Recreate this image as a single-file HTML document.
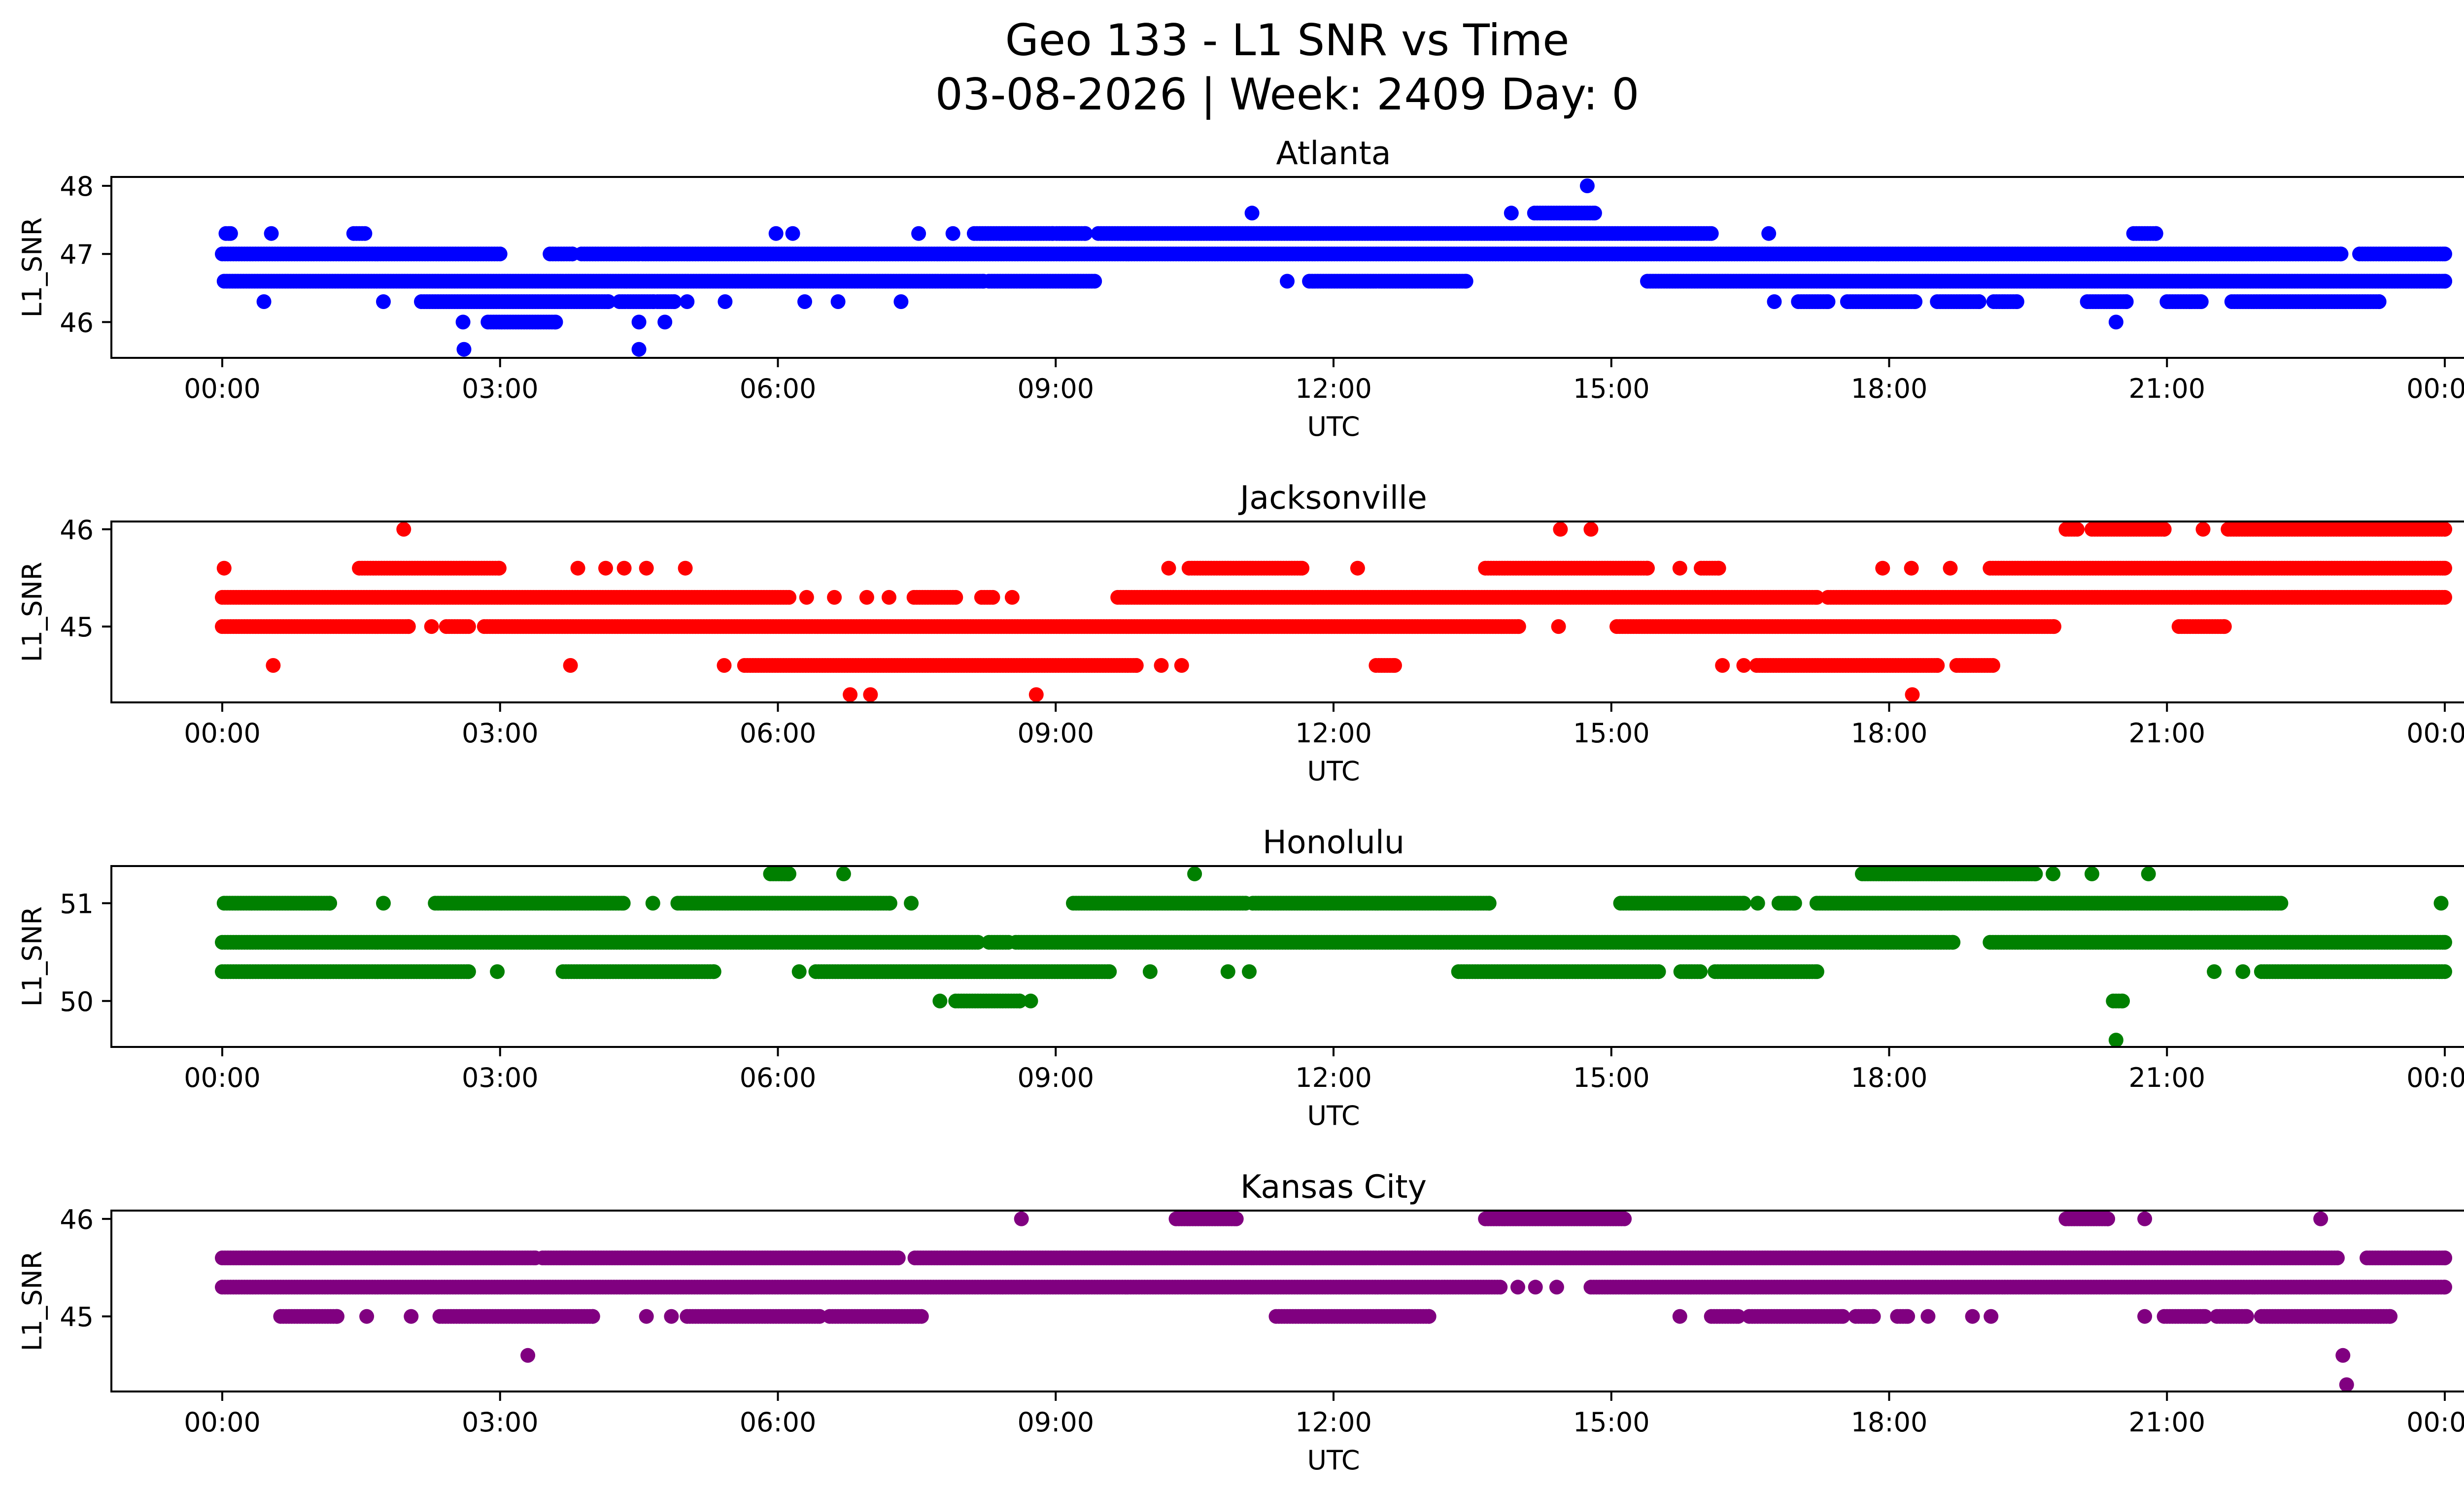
<!DOCTYPE html>
<html><head><meta charset="utf-8"><title>Geo 133 - L1 SNR vs Time</title>
<style>
html,body{margin:0;padding:0;background:#fff;}
svg{display:block;font-family:"DejaVu Sans","Liberation Sans",sans-serif;}
</style></head>
<body>
<svg id="fig" xmlns="http://www.w3.org/2000/svg" width="5225" height="3033" viewBox="0 0 5225 3033">
<rect x="0" y="0" width="5225" height="3033" fill="#fff"/>
<text x="2612" y="112" font-size="88" text-anchor="middle">Geo 133 - L1 SNR vs Time</text>
<text x="2612" y="222" font-size="88" text-anchor="middle">03-08-2026 | Week: 2409 Day: 0</text>
<g id="plots"></g>
</svg>
<script>
// Tick labels
const xTickHours = [0, 3, 6, 9, 12, 15, 18, 21, 24];
const xTickLabels = ["00:00", "03:00", "06:00", "09:00", "12:00", "15:00", "18:00", "21:00", "00:00"];
const panelNames = ["Atlanta", "Jacksonville", "Honolulu", "Kansas City"];
const panelColors = ["#0000ff", "#ff0000", "#008000", "#800080"];
const atlantaYTicks = [46, 47, 48];
const jacksonvilleYTicks = [45, 46];
const honoluluYTicks = [50, 51];
const kansasYTicks = [45, 46];
// Runs: [SNR value, start hour, end hour]
const atlantaRuns = [
 [48.0,14.74,14.74],
 [47.6,11.12,11.12],[47.6,13.92,13.92],[47.6,14.17,14.82],
 [47.3,0.04,0.09],[47.3,0.53,0.53],[47.3,1.42,1.54],[47.3,5.98,5.98],[47.3,6.16,6.16],[47.3,7.52,7.52],[47.3,7.89,7.89],[47.3,8.12,8.97],[47.3,9.01,9.32],[47.3,9.46,16.08],[47.3,16.7,16.7],[47.3,20.64,20.88],
 [47.0,0,3.0],[47.0,3.54,3.78],[47.0,3.88,4.5],[47.0,4.54,22.88],[47.0,23.08,24.0],
 [46.6,0.02,8.22],[46.6,8.28,9.42],[46.6,11.5,11.5],[46.6,11.74,13.43],[46.6,15.39,24.0],
 [46.3,0.45,0.45],[46.3,1.74,1.74],[46.3,2.15,4.17],[46.3,4.29,4.66],[46.3,4.7,4.88],[46.3,5.02,5.02],[46.3,5.43,5.43],[46.3,6.29,6.29],[46.3,6.65,6.65],[46.3,7.33,7.33],
 [46.3,16.76,16.76],[46.3,17.02,17.34],[46.3,17.55,18.28],[46.3,18.52,18.97],[46.3,19.13,19.38],[46.3,20.14,20.56],[46.3,21.0,21.37],[46.3,21.7,23.29],
 [46.0,2.6,2.6],[46.0,2.87,3.6],[46.0,4.5,4.5],[46.0,4.78,4.78],[46.0,20.45,20.45],
 [45.6,2.61,2.61],[45.6,4.5,4.5]
];
const jacksonvilleRuns = [
 [46.0,1.96,1.96],[46.0,14.45,14.45],[46.0,14.78,14.78],[46.0,19.91,20.03],[46.0,20.19,20.97],[46.0,21.39,21.39],[46.0,21.66,24.0],
 [45.6,0.02,0.02],[45.6,1.48,2.99],[45.6,3.84,3.84],[45.6,4.14,4.14],[45.6,4.34,4.34],[45.6,4.58,4.58],[45.6,5.0,5.0],[45.6,10.22,10.22],[45.6,10.44,11.66],[45.6,12.26,12.26],
 [45.6,13.64,15.39],[45.6,15.74,15.74],[45.6,15.97,16.16],[45.6,17.93,17.93],[45.6,18.24,18.24],[45.6,18.66,18.66],[45.6,19.09,24.0],
 [45.3,0,6.12],[45.3,6.31,6.31],[45.3,6.61,6.61],[45.3,6.96,6.96],[45.3,7.2,7.2],[45.3,7.47,7.92],[45.3,8.2,8.32],[45.3,8.53,8.53],[45.3,9.67,17.22],[45.3,17.34,24.0],
 [45.0,0,2.01],[45.0,2.26,2.26],[45.0,2.42,2.66],[45.0,2.83,14.0],[45.0,14.43,14.43],[45.0,15.06,19.78],[45.0,21.13,21.62],
 [44.6,0.55,0.55],[44.6,3.76,3.76],[44.6,5.42,5.42],[44.6,5.64,9.87],[44.6,10.14,10.14],[44.6,10.36,10.36],[44.6,12.46,12.66],[44.6,16.2,16.2],[44.6,16.43,16.43],[44.6,16.57,18.52],[44.6,18.73,19.12],
 [44.3,6.78,6.78],[44.3,7.0,7.0],[44.3,8.79,8.79],[44.3,18.25,18.25]
];
const honoluluRuns = [
 [51.3,5.92,6.12],[51.3,6.71,6.71],[51.3,10.5,10.5],[51.3,17.71,19.58],[51.3,19.77,19.77],[51.3,20.19,20.19],[51.3,20.8,20.8],
 [51.0,0.02,1.16],[51.0,1.74,1.74],[51.0,2.3,4.33],[51.0,4.65,4.65],[51.0,4.92,7.21],[51.0,7.44,7.44],[51.0,9.19,11.05],[51.0,11.13,13.68],[51.0,15.1,16.43],[51.0,16.58,16.58],[51.0,16.81,16.98],[51.0,17.22,22.23],[51.0,23.96,23.96],
 [50.6,0,8.16],[50.6,8.28,8.49],[50.6,8.57,18.69],[50.6,19.09,24.0],
 [50.3,0,2.66],[50.3,2.97,2.97],[50.3,3.68,5.31],[50.3,6.23,6.23],[50.3,6.41,9.58],[50.3,10.02,10.02],[50.3,10.86,10.86],[50.3,11.09,11.09],[50.3,13.35,15.51],[50.3,15.75,15.96],[50.3,16.12,17.22],[50.3,21.51,21.51],[50.3,21.82,21.82],[50.3,22.02,24.0],
 [50.0,7.75,7.75],[50.0,7.92,8.61],[50.0,8.73,8.73],[50.0,20.42,20.52],
 [49.6,20.45,20.45]
];
const kansasRuns = [
 [46.0,8.63,8.63],[46.0,10.3,10.95],[46.0,13.64,15.14],[46.0,19.91,20.36],[46.0,20.76,20.76],[46.0,22.66,22.66],
 [45.6,0,3.38],[45.6,3.46,7.3],[45.6,7.48,22.84],[45.6,23.16,24.0],
 [45.3,0,13.8],[45.3,13.99,13.99],[45.3,14.18,14.18],[45.3,14.41,14.41],[45.3,14.78,24.0],
 [45.0,0.63,1.24],[45.0,1.56,1.56],[45.0,2.04,2.04],[45.0,2.35,4.0],[45.0,4.58,4.58],[45.0,4.85,4.85],[45.0,5.02,6.45],[45.0,6.56,7.55],[45.0,11.38,13.03],
 [45.0,15.74,15.74],[45.0,16.08,16.37],[45.0,16.49,17.5],[45.0,17.64,17.83],[45.0,18.09,18.2],[45.0,18.42,18.42],[45.0,18.9,18.9],[45.0,19.1,19.1],[45.0,20.76,20.76],[45.0,20.97,21.41],[45.0,21.54,21.86],[45.0,22.02,23.41],
 [44.6,3.3,3.3],[44.6,22.9,22.9],
 [44.3,22.94,22.94]
];
const allRuns = [atlantaRuns, jacksonvilleRuns, honoluluRuns, kansasRuns];
const allYTicks = [atlantaYTicks, jacksonvilleYTicks, honoluluYTicks, kansasYTicks];
const yLimits = [[45.475, 48.13], [44.22, 46.08], [49.53, 51.38], [44.23, 46.085]];

const NS = "http://www.w3.org/2000/svg";
const AX_L = 226, AX_R = 5186, AX_H = 367;
const panelTops = [359, 1058, 1757, 2456];
const X0 = 451, PX_PER_H = 4510 / 24;
function xScale(h) { return X0 + h * PX_PER_H; }
function makeY(i) {
  const [lo, hi] = yLimits[i], top = panelTops[i];
  return v => top + (hi - v) / (hi - lo) * AX_H;
}
function el(tag, attrs, parent) {
  const e = document.createElementNS(NS, tag);
  for (const k in attrs) e.setAttribute(k, attrs[k]);
  parent.appendChild(e);
  return e;
}
const root = document.getElementById("plots");
const STEP = 0.03, R = 15;
for (let i = 0; i < 4; i++) {
  const top = panelTops[i], bottom = top + AX_H, yS = makeY(i);
  const g = el("g", {}, root);
  
  
  const clip = el("clipPath", {id: "clip" + i}, g);
  el("rect", {x: AX_L, y: top, width: AX_R - AX_L, height: AX_H}, clip);
  const pts = el("g", {fill: panelColors[i], "clip-path": "url(#clip" + i + ")"}, g);
  
  
  let frag = "";
  for (const run of allRuns[i]) {
    const v = run[0], cy = yS(v).toFixed(1);
    for (let h = run[1]; h <= run[2] + 1e-9; h += STEP) {
      frag += '<circle cx="' + xScale(h).toFixed(1) + '" cy="' + cy + '" r="' + R + '"/>';
    }
    if ((run[2] - run[1]) % STEP > 0.001) frag += '<circle cx="' + xScale(run[2]).toFixed(1) + '" cy="' + cy + '" r="' + R + '"/>';
  }
  pts.innerHTML = frag;
  const frame = el("rect", {x: AX_L, y: top, width: AX_R - AX_L, height: AX_H, fill: "none", stroke: "#000", "stroke-width": 4}, g);
  
  
  xTickHours.forEach((h, k) => {
    const x = xScale(h);
    const t = el("line", {x1: x, x2: x, y1: bottom, y2: bottom + 19, stroke: "#000", "stroke-width": 4}, g);
    
    
    const lb = el("text", {x: x, y: bottom + 81, "font-size": 54, "text-anchor": "middle"}, g);
    lb.textContent = xTickLabels[k];
    
    
  });
  allYTicks[i].forEach(v => {
    const y = yS(v);
    const t = el("line", {x1: AX_L - 19, x2: AX_L, y1: y, y2: y, stroke: "#000", "stroke-width": 4}, g);
    
    
    const lb = el("text", {x: AX_L - 36, y: y + 20, "font-size": 54, "text-anchor": "end"}, g);
    lb.textContent = String(v);
    
    
  });
  const title = el("text", {x: (AX_L + AX_R) / 2, y: top - 26, "font-size": 65, "text-anchor": "middle"}, g);
  title.textContent = panelNames[i];
  
  
  const xl = el("text", {x: (AX_L + AX_R) / 2, y: bottom + 158, "font-size": 54, "text-anchor": "middle"}, g);
  xl.textContent = "UTC";
  
  
  const cy = top + AX_H / 2;
  const yl = el("text", {x: 84, y: cy, "font-size": 54, "text-anchor": "middle", transform: "rotate(-90 84 " + cy + ")"}, g);
  yl.textContent = "L1_SNR";
  
  
}
</script>
</body></html>
